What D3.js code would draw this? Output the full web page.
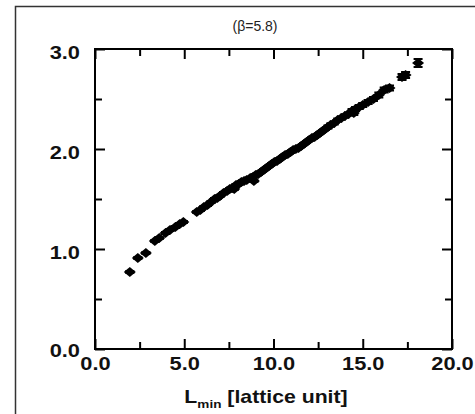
<!DOCTYPE html>
<html><head><meta charset="utf-8">
<script src="https://cdn.jsdelivr.net/npm/d3@7"></script>
<style>html,body{margin:0;padding:0;background:#fff;}svg{display:block;}</style>
</head><body>
<svg id="c" width="475" height="414"></svg>
<script>
const title = "(β=5.8)";
const xMajorTicks = [0, 5, 10, 15, 20];
const xMinorTicks = [2.5, 7.5, 12.5, 17.5];
const yMajorTicks = [0, 1, 2, 3];
const yMinorTicks = [0.5, 1.5, 2.5];
const lmin = [1.95, 2.4, 2.85, 3.35, 3.6, 3.95, 4.2, 4.5, 4.75, 4.95, 5.7, 5.9, 6.1, 6.3, 6.5, 6.7, 6.85, 7.0, 7.2, 7.4, 7.55, 7.7, 7.8, 7.9, 8.05, 8.2, 8.35, 8.5, 8.7, 8.85, 8.9, 9.0, 9.15, 9.3, 9.45, 9.6, 9.75, 9.9, 10.05, 10.2, 10.35, 10.5, 10.65, 10.8, 10.95, 11.1, 11.25, 11.4, 11.55, 11.7, 11.85, 12.0, 12.15, 12.3, 12.45, 12.6, 12.75, 12.9, 13.05, 13.2, 13.4, 13.6, 13.8, 14.0, 14.2, 14.4, 14.5, 14.6, 14.8, 15.0, 15.3, 15.6, 15.9, 16.2, 16.5, 17.2, 17.4, 18.1];
const vval = [0.77, 0.91, 0.96, 1.08, 1.11, 1.16, 1.19, 1.22, 1.25, 1.27, 1.37, 1.39, 1.42, 1.44, 1.47, 1.50, 1.51, 1.53, 1.56, 1.58, 1.60, 1.61, 1.60, 1.64, 1.65, 1.67, 1.68, 1.69, 1.71, 1.72, 1.68, 1.74, 1.75, 1.77, 1.79, 1.81, 1.83, 1.85, 1.87, 1.88, 1.90, 1.92, 1.94, 1.95, 1.97, 1.99, 2.00, 2.01, 2.03, 2.05, 2.07, 2.09, 2.11, 2.12, 2.14, 2.16, 2.18, 2.20, 2.22, 2.24, 2.26, 2.29, 2.31, 2.33, 2.35, 2.38, 2.36, 2.40, 2.42, 2.44, 2.47, 2.50, 2.54, 2.59, 2.61, 2.72, 2.74, 2.86];
const verr = [0.01, 0.01, 0.01, 0.01, 0.01, 0.01, 0.01, 0.01, 0.01, 0.01, 0.01, 0.01, 0.01, 0.01, 0.01, 0.01, 0.01, 0.01, 0.01, 0.01, 0.01, 0.01, 0.01, 0.01, 0.01, 0.01, 0.01, 0.01, 0.01, 0.01, 0.01, 0.01, 0.01, 0.01, 0.01, 0.01, 0.01, 0.01, 0.01, 0.01, 0.01, 0.01, 0.01, 0.01, 0.01, 0.01, 0.01, 0.01, 0.01, 0.01, 0.01, 0.01, 0.01, 0.01, 0.01, 0.01, 0.01, 0.01, 0.015, 0.015, 0.015, 0.015, 0.015, 0.015, 0.015, 0.02, 0.02, 0.02, 0.02, 0.02, 0.02, 0.02, 0.025, 0.025, 0.025, 0.03, 0.03, 0.04];

const svg = d3.select("#c");
const L = 95, R = 452, T = 49, B = 349;
const x = d3.scaleLinear().domain([0, 20]).range([L, R]);
const y = d3.scaleLinear().domain([0, 3]).range([B, T]);
const fmt = d3.format(".1f");
const SX = 1.18;

svg.append("path").attr("d", "M15.5,414 L15.5,6.5 L475,6.5")
  .attr("fill", "none").attr("stroke", "#333").attr("stroke-width", 1.5);

const mk = (axis, tx, ty) => svg.append("g").attr("transform", `translate(${tx},${ty})`).call(axis);
const styleAxis = g => { g.select(".domain").remove(); g.selectAll("line").attr("stroke", "#000").attr("stroke-width", 2); };
mk(d3.axisBottom(x).tickValues(xMinorTicks).tickSize(-7).tickFormat(""), 0, B).call(styleAxis);
mk(d3.axisTop(x).tickValues(xMinorTicks).tickSize(-7).tickFormat(""), 0, T).call(styleAxis);
mk(d3.axisLeft(y).tickValues(yMinorTicks).tickSize(-7).tickFormat(""), L, 0).call(styleAxis);
mk(d3.axisRight(y).tickValues(yMinorTicks).tickSize(-7).tickFormat(""), R, 0).call(styleAxis);
mk(d3.axisTop(x).tickValues(xMajorTicks).tickSize(-10).tickFormat(""), 0, T).call(styleAxis);
mk(d3.axisRight(y).tickValues(yMajorTicks).tickSize(-10).tickFormat(""), R, 0).call(styleAxis);
const gx = mk(d3.axisBottom(x).tickValues(xMajorTicks).tickSize(-10).tickFormat(fmt), 0, B).call(styleAxis);
const gy = mk(d3.axisLeft(y).tickValues(yMajorTicks).tickSize(-10).tickFormat(fmt), L, 0).call(styleAxis);

gx.selectAll("text").each(function(d){
  d3.select(this).attr("y", null).attr("dy", null).attr("x", null)
    .attr("transform", `translate(0,21) scale(${SX},1)`);
}).attr("font-family", "Liberation Sans, Arial, sans-serif").attr("font-weight", "bold")
  .attr("font-size", 18.5).attr("fill", "#111");
gy.selectAll("text").each(function(d){
  d3.select(this).attr("x", null).attr("dy", null)
    .attr("transform", `translate(-15,${d===0?7:9}) scale(${SX},1)`);
}).attr("font-family", "Liberation Sans, Arial, sans-serif").attr("font-weight", "bold")
  .attr("font-size", 18.5).attr("fill", "#111");

svg.append("rect").attr("x", L).attr("y", T).attr("width", R - L).attr("height", B - T)
  .attr("fill", "none").attr("stroke", "#000").attr("stroke-width", 2);

const pts = lmin.map((l, i) => ({l, v: vval[i], e: verr[i]}));
const g = svg.append("g");
g.selectAll("path.eb").data(pts).join("path").attr("class", "eb")
  .attr("d", d => {
    const cx = x(d.l), y1 = y(d.v + d.e), y2 = y(d.v - d.e);
    return `M${cx},${y1}V${y2}M${cx-4.5},${y1}H${cx+4.5}M${cx-4.5},${y2}H${cx+4.5}`;
  })
  .attr("stroke", "#000").attr("stroke-width", 2.2).attr("fill", "none");
g.selectAll("path.pt").data(pts).join("path").attr("class", "pt")
  .attr("d", d => {
    const cx = x(d.l), cy = y(d.v);
    return `M${cx-6},${cy}L${cx},${cy-5}L${cx+6},${cy}L${cx},${cy+5}Z`;
  })
  .attr("fill", "#000");

svg.append("text").attr("x", 255).attr("y", 31).attr("text-anchor", "middle")
  .attr("font-family", "Liberation Sans, Arial, sans-serif").attr("font-size", 14)
  .attr("fill", "#222").text(title);

const xl = svg.append("text").attr("text-anchor", "middle")
  .attr("transform", `translate(266,403) scale(${SX},1)`)
  .attr("font-family", "Liberation Sans, Arial, sans-serif").attr("font-weight", "bold")
  .attr("font-size", 18).attr("fill", "#111");
xl.append("tspan").text("L");
xl.append("tspan").attr("font-size", 11.5).attr("dy", 5).text("min");
xl.append("tspan").attr("dy", -5).text(" [lattice unit]");
</script>
</body></html>
